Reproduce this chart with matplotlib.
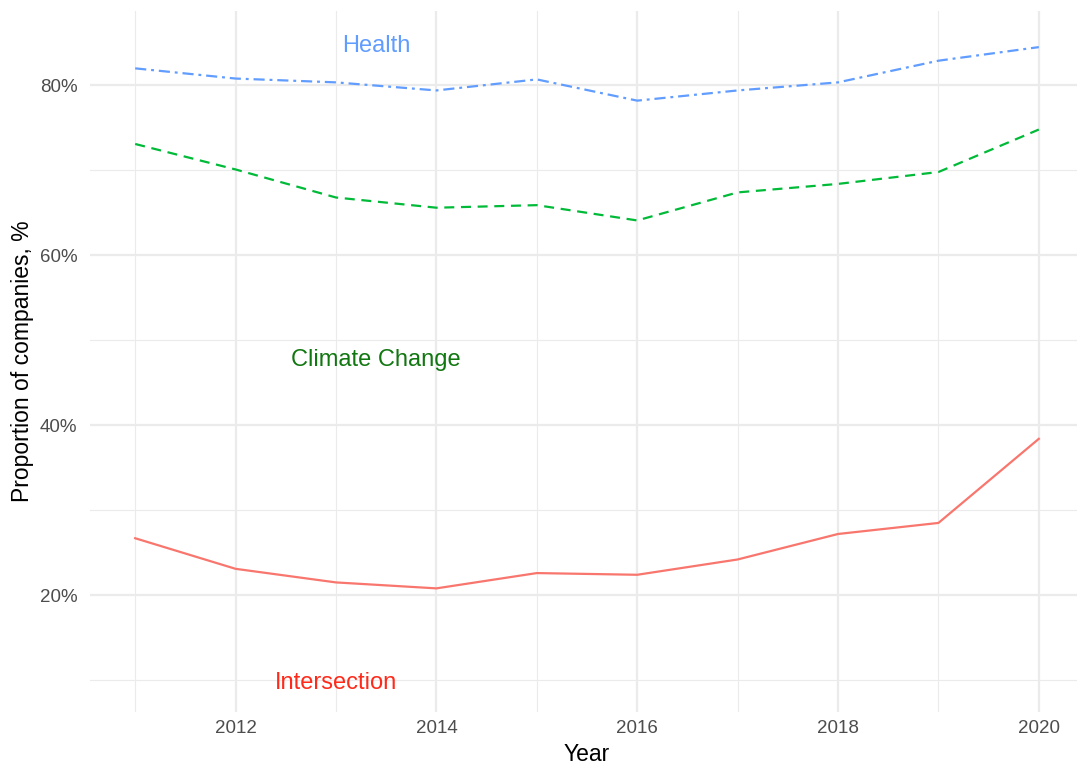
import matplotlib
matplotlib.use("Agg")
import matplotlib.pyplot as plt
import matplotlib.transforms as mtransforms
from matplotlib.ticker import FuncFormatter, MultipleLocator

plt.rcParams['font.family'] = ['Liberation Sans', 'DejaVu Sans']

years = [2011, 2012, 2013, 2014, 2015, 2016, 2017, 2018, 2019, 2020]
health = [82.0, 80.8, 80.35, 79.4, 80.7, 78.2, 79.4, 80.35, 82.9, 84.5]
climate = [73.1, 70.1, 66.8, 65.6, 65.9, 64.1, 67.4, 68.4, 69.8, 74.8]
intersection = [26.7, 23.1, 21.5, 20.8, 22.6, 22.4, 24.2, 27.2, 28.5, 38.4]

labels = ["Health", "Climate Change", "Intersection"]
label_x = [2013.4, 2013.4, 2013.0]
label_y = [85, 48, 10]
label_colors = ["#619CFF", "#117711", "#FF2A1A"]

W, H = 1077, 767
fig = plt.figure(figsize=(W / 100, H / 100), dpi=100)
# panel: left 90px, right 1084px, top 11px, bottom 712px
ax = fig.add_axes([90 / W, (H - 712) / H, (1084 - 90) / W, (712 - 11) / H])

ax.plot(years, intersection, color="#F8766D", lw=1.6, ls="-")
ax.plot(years, climate, color="#00BA38", lw=1.6, ls=(0, (4.5, 3.0)))
ax.plot(years, health, color="#619CFF", lw=1.6, ls=(0, (5.0, 2.2, 1.3, 2.2)))

shift = mtransforms.ScaledTranslation(0, -2.0 / 72, fig.dpi_scale_trans)
for t, x, y, c in zip(labels, label_x, label_y, label_colors):
    ax.text(x, y, t, color=c, fontsize=17, ha="center", va="center",
            transform=ax.transData + shift)

ax.set_xlim(2010.55, 2020.45)
ax.set_ylim(6.25, 88.75)
ax.xaxis.set_major_locator(MultipleLocator(2))
ax.xaxis.set_minor_locator(MultipleLocator(1))
ax.yaxis.set_major_locator(MultipleLocator(20))
ax.yaxis.set_minor_locator(MultipleLocator(10))
ax.yaxis.set_major_formatter(FuncFormatter(lambda v, p: f"{int(round(v))}%"))

ax.grid(which="major", color="#EBEBEB", lw=1.6)
ax.grid(which="minor", color="#EBEBEB", lw=0.8)
ax.set_axisbelow(True)
for s in ax.spines.values():
    s.set_visible(False)
ax.tick_params(which="both", length=0, labelsize=13.5, labelcolor="#4D4D4D")
ax.tick_params(axis="x", pad=6)
ax.tick_params(axis="y", pad=9)

ax.set_xlabel("Year", fontsize=16.5, color="black", labelpad=4)
ax.set_ylabel("Proportion of companies, %", fontsize=16.5, color="black", labelpad=4)

fig.savefig("out.png", dpi=100)
